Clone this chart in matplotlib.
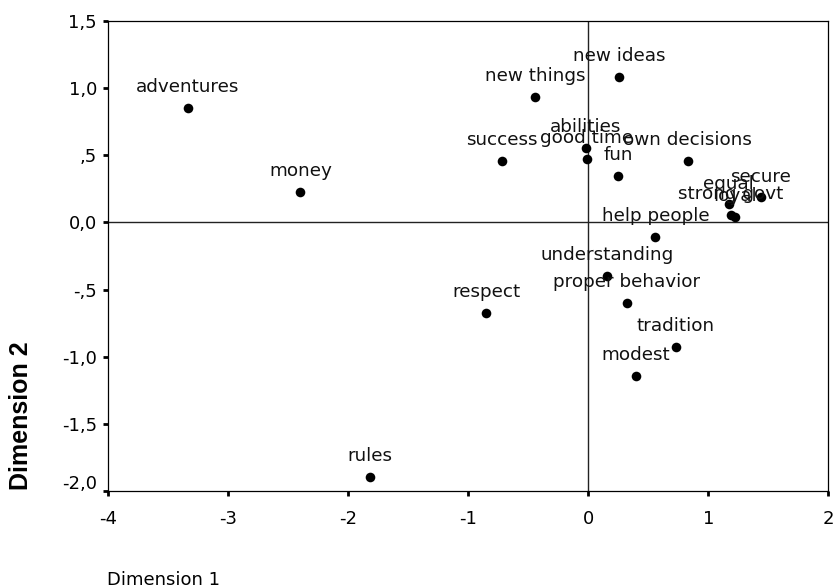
"""Two-dimensional map of value items (dimension 1 vs dimension 2)."""

import matplotlib
matplotlib.use("Agg")
import matplotlib.pyplot as plt
from matplotlib.transforms import ScaledTranslation

# item labels and their coordinates
labels = [
    "adventures", "money", "new ideas", "new things", "abilities",
    "good time", "success", "own decisions", "fun", "equal", "secure",
    "strong govt", "loyal", "help people", "understanding",
    "proper behavior", "respect", "tradition", "modest", "rules",
]
dim1 = [
    -3.34, -2.40, 0.26, -0.44, -0.02,
    -0.01, -0.72, 0.83, 0.25, 1.17, 1.44,
    1.19, 1.22, 0.56, 0.16,
    0.32, -0.85, 0.73, 0.40, -1.82,
]
dim2 = [
    0.854, 0.224, 1.080, 0.936, 0.556,
    0.470, 0.455, 0.457, 0.348, 0.133, 0.185,
    0.055, 0.040, -0.106, -0.397,
    -0.602, -0.677, -0.930, -1.144, -1.894,
]

x_ticks = [-4, -3, -2, -1, 0, 1, 2]
y_ticks = [1.5, 1.0, 0.5, 0.0, -0.5, -1.0, -1.5, -2.0]
y_tick_labels = ["1,5", "1,0", ",5", "0,0", "-,5", "-1,0", "-1,5", "-2,0"]


def draw():
    fig = plt.figure(figsize=(8.34, 5.88), dpi=100)
    ax = fig.add_axes([0.130, 0.165, 0.863, 0.7995])

    ax.axhline(0, color="#222222", lw=1.0, zorder=1)
    ax.axvline(0, color="#222222", lw=1.0, zorder=1)
    ax.scatter(dim1, dim2, s=48, color="black", zorder=3, linewidths=0)

    for name, x, y in zip(labels, dim1, dim2):
        ax.annotate(name, (x, y), xytext=(0, 11.5), textcoords="offset points",
                    ha="center", va="baseline", fontsize=13.2, color="#111111",
                    zorder=4)

    ax.set_xlim(-4, 2)
    ax.set_ylim(-2.0, 1.5)
    ax.set_xticks(x_ticks)
    ax.set_xticklabels([str(t) for t in x_ticks])
    ax.set_yticks(y_ticks)
    ax.set_yticklabels(y_tick_labels)
    ax.tick_params(axis="both", direction="out", length=3.5, width=2.0,
                   labelsize=13, colors="black")
    ax.tick_params(axis="x", pad=10)
    ax.tick_params(axis="y", pad=4.8)
    for spine in ax.spines.values():
        spine.set_linewidth(0.9)
        spine.set_color("black")

    # the bottom y label sits a bit above its tick in the original
    bottom_label = ax.get_yticklabels()[-1]
    bottom_label.set_transform(bottom_label.get_transform()
                               + ScaledTranslation(0, 0.09, fig.dpi_scale_trans))

    fig.text(0.025, 0.2934, "Dimension 2", rotation=90, ha="center",
             va="center", fontsize=18, fontweight="bold",
             family="Liberation Sans")
    fig.text(107 / 834, 1 - 585 / 588, "Dimension 1", ha="left",
             va="baseline", fontsize=13)

    fig.savefig("out.png", dpi=100)


if __name__ == "__main__":
    draw()
